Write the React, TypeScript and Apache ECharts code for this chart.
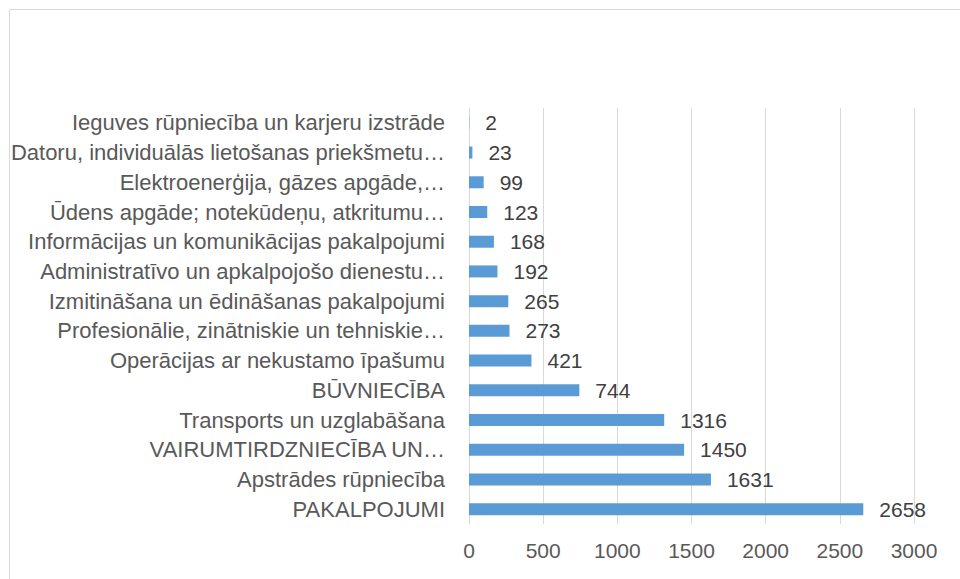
import React, { useEffect, useRef } from "react";
import * as echarts from "echarts";

const categories = [
  "PAKALPOJUMI",
  "Apstrādes rūpniecība",
  "VAIRUMTIRDZNIECĪBA UN…",
  "Transports un uzglabāšana",
  "BŪVNIECĪBA",
  "Operācijas ar nekustamo īpašumu",
  "Profesionālie, zinātniskie un tehniskie…",
  "Izmitināšana un ēdināšanas pakalpojumi",
  "Administratīvo un apkalpojošo dienestu…",
  "Informācijas un komunikācijas pakalpojumi",
  "Ūdens apgāde; notekūdeņu, atkritumu…",
  "Elektroenerģija, gāzes apgāde,…",
  "Datoru, individuālās lietošanas priekšmetu…",
  "Ieguves rūpniecība un karjeru izstrāde",
];
const values = [2658, 1631, 1450, 1316, 744, 421, 273, 265, 192, 168, 123, 99, 23, 2];
const xMin = 0;
const xMax = 3000;
const xInterval = 500;

const FONT = "Liberation Sans";

export default function App() {
  const ref = useRef<HTMLDivElement>(null);
  useEffect(() => {
    if (!ref.current) return;
    const chart = echarts.init(ref.current, undefined, { renderer: "svg" });
    chart.setOption({
      animation: false,
      backgroundColor: "#ffffff",
      textStyle: { fontFamily: FONT },
      graphic: [
        {
          type: "rect",
          shape: { x: 9.5, y: 9.5, width: 1200, height: 1200 },
          style: { fill: "none", stroke: "#d9d9d9", lineWidth: 1 },
          silent: true,
        },
      ],
      grid: { left: 469, right: 46, top: 108, bottom: 55, containLabel: false },
      xAxis: {
        type: "value",
        min: xMin,
        max: xMax,
        interval: xInterval,
        axisLine: { show: false },
        axisTick: { show: false },
        splitLine: { show: true, lineStyle: { color: "#d9d9d9", width: 1 } },
        axisLabel: {
          color: "#595959",
          fontSize: 21,
          fontFamily: FONT,
          margin: 16,
          formatter: (v: number) => String(v),
        },
      },
      yAxis: {
        type: "category",
        data: categories,
        axisLine: { show: true, lineStyle: { color: "#d9d9d9", width: 1 } },
        axisTick: { show: false },
        axisLabel: { color: "#595959", fontSize: 22, fontFamily: FONT, margin: 24 },
      },
      series: [
        {
          type: "bar",
          data: values,
          barWidth: 12,
          itemStyle: { color: "#5b9bd5" },
          label: {
            show: true,
            position: "right",
            distance: 16,
            color: "#404040",
            fontSize: 21,
            fontFamily: FONT,
          },
        },
      ],
    });
    return () => chart.dispose();
  }, []);
  return (
    <div
      ref={ref}
      style={{ position: "fixed", left: 0, top: 0, width: 960, height: 579 }}
    />
  );
}
